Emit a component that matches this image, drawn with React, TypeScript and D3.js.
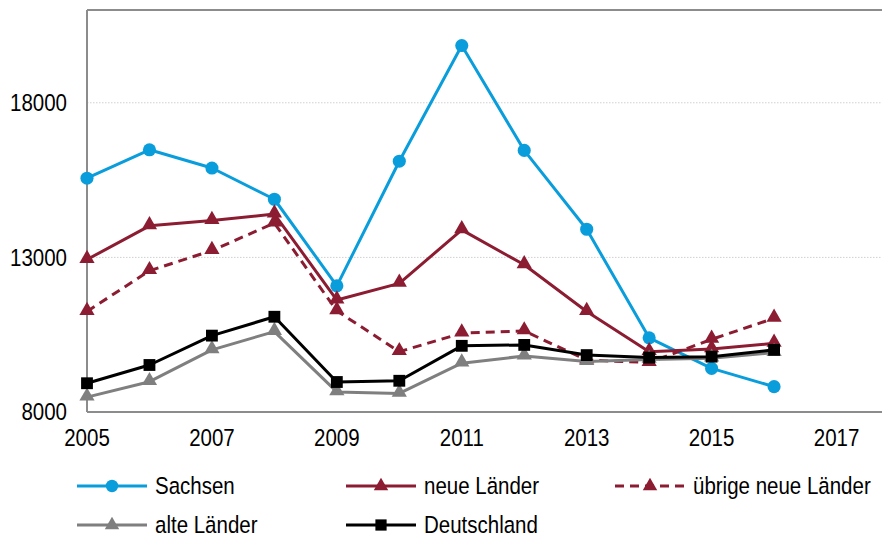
import React from "react";
import * as d3 from "d3";

const years = [2005, 2006, 2007, 2008, 2009, 2010, 2011, 2012, 2013, 2014, 2015, 2016];
const sachsen = [15560, 16480, 15890, 14880, 12080, 16110, 19850, 16460, 13910, 10400, 9410, 8820];
const neueLaender = [12930, 14020, 14190, 14400, 11620, 12160, 13890, 12760, 11250, 9950, 10040, 10220];
const uebrigeNeueLaender = [11250, 12570, 13220, 14110, 11270, 9950, 10550, 10620, 9680, 9600, 10350, 11030];
const alteLaender = [8480, 8980, 10010, 10600, 8650, 8600, 9580, 9810, 9630, 9700, 9740, 9920];
const deutschland = [8930, 9520, 10470, 11080, 8970, 9010, 10140, 10170, 9840, 9760, 9790, 10010];
const xTicks = [2005, 2007, 2009, 2011, 2013, 2015, 2017];
const yTicks = [8000, 13000, 18000];

const W = 882;
const H = 538;
const FONT = "'Liberation Sans', Arial, Helvetica, sans-serif";
const STRETCH = 1.13;

type Series = {
  name: string;
  values: number[];
  color: string;
  marker: "circle" | "triangle" | "square";
  dashed?: boolean;
};

const series: Series[] = [
  { name: "Sachsen", values: sachsen, color: "#0A9DDB", marker: "circle" },
  { name: "neue Länder", values: neueLaender, color: "#8C1C31", marker: "triangle" },
  { name: "übrige neue Länder", values: uebrigeNeueLaender, color: "#8C1C31", marker: "triangle", dashed: true },
  { name: "alte Länder", values: alteLaender, color: "#7F7F7F", marker: "triangle" },
  { name: "Deutschland", values: deutschland, color: "#000000", marker: "square" },
];

const legendPos = [
  { x: 77, y: 486 },
  { x: 346, y: 486 },
  { x: 615, y: 486 },
  { x: 77, y: 525 },
  { x: 346, y: 525 },
];

function markerPath(m: Series["marker"], scale = 1) {
  const t = m === "circle" ? d3.symbolCircle : m === "triangle" ? d3.symbolTriangle : d3.symbolSquare;
  const size = (m === "circle" ? 135 : m === "triangle" ? 100 : 140) * scale;
  return d3.symbol().type(t).size(size)() as string;
}

function T(props: { x: number; y: number; anchor?: string; children: React.ReactNode }) {
  return (
    <text
      transform={`translate(${props.x},${props.y}) scale(1,${STRETCH})`}
      textAnchor={props.anchor || "start"}
      dy="0.36em"
      fontSize={20.5}
      fill="#000"
    >
      {props.children}
    </text>
  );
}

export default function App() {
  const x = d3.scaleLinear().domain([2005, 2018]).range([87, 899]);
  const y = d3.scaleLinear().domain([8000, 21000]).range([412, 10]);
  const line = d3
    .line<number>()
    .x((_, i) => x(years[i]))
    .y((d) => y(d));

  return (
    <svg
      width={W}
      height={H}
      style={{ position: "absolute", left: 0, top: 0, background: "#fff" }}
      fontFamily={FONT}
    >
      <rect x={0} y={0} width={W} height={H} fill="#fff" />
      {yTicks.slice(1).map((t) => (
        <line key={t} x1={x(2005)} x2={W} y1={y(t)} y2={y(t)} stroke="#d0d0d0" strokeWidth={1} strokeDasharray="1.5,1.5" />
      ))}
      <line x1={x(2005)} x2={W} y1={y(21000)} y2={y(21000)} stroke="#8c8c8c" strokeWidth={2} />
      <line x1={x(2005)} x2={W} y1={y(8000)} y2={y(8000)} stroke="#8c8c8c" strokeWidth={2} />
      <line x1={x(2005)} x2={x(2005)} y1={y(21000)} y2={y(8000)} stroke="#8c8c8c" strokeWidth={2} />
      {yTicks.map((t) => (
        <T key={t} x={67} y={y(t)} anchor="end">
          {t}
        </T>
      ))}
      {xTicks.map((t) => (
        <T key={t} x={x(t)} y={438} anchor="middle">
          {t}
        </T>
      ))}
      {series.map((s) => (
        <g key={s.name}>
          <path
            d={line(s.values) as string}
            fill="none"
            stroke={s.color}
            strokeWidth={3}
            strokeLinejoin="round"
            strokeDasharray={s.dashed ? "9,6" : undefined}
          />
          {s.values.map((v, i) => (
            <path
              key={i}
              d={markerPath(s.marker)}
              transform={`translate(${x(years[i])},${y(v) + (s.marker === "triangle" ? -1 : 0)})`}
              fill={s.color}
            />
          ))}
        </g>
      ))}
      {series.map((s, i) => {
        const p = legendPos[i];
        return (
          <g key={s.name}>
            <line
              x1={p.x}
              x2={p.x + 70}
              y1={p.y}
              y2={p.y}
              stroke={s.color}
              strokeWidth={3}
              strokeDasharray={s.dashed ? "9,6" : undefined}
            />
            <path d={markerPath(s.marker, 0.9)} transform={`translate(${p.x + 35},${p.y})`} fill={s.color} />
            <T x={p.x + 78} y={p.y}>
              {s.name}
            </T>
          </g>
        );
      })}
    </svg>
  );
}
